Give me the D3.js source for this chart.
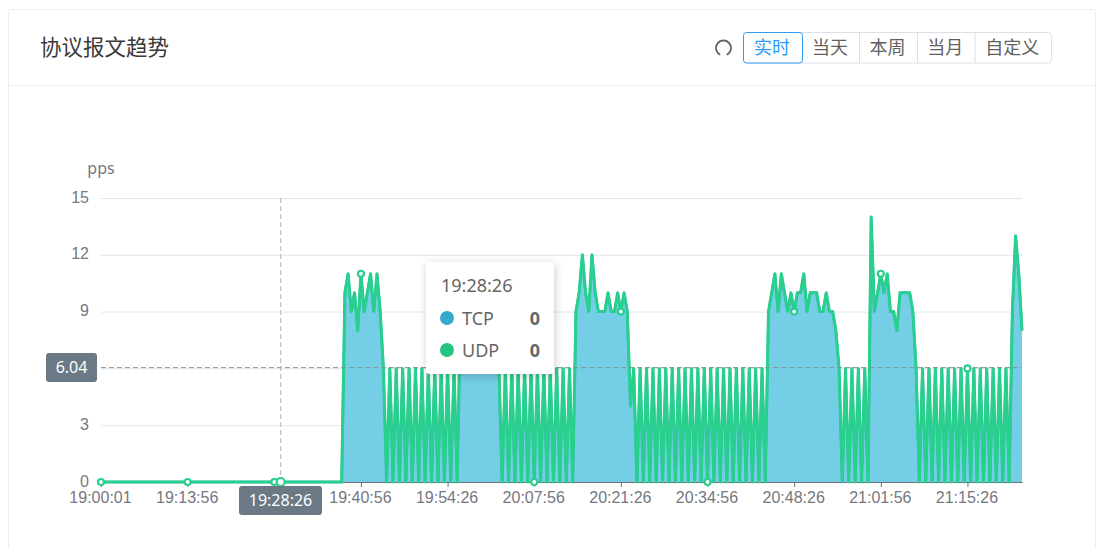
<!DOCTYPE html>
<html>
<head>
<meta charset="utf-8">
<script src="https://cdn.jsdelivr.net/npm/d3@7"></script>
<style>
  html, body { margin: 0; padding: 0; background: #fff; overflow: hidden; }
  svg { display: block; font-family: "Noto Sans", "Noto Sans CJK SC", sans-serif; }
  .cn { font-family: "Noto Sans CJK SC", sans-serif; }
</style>
</head>
<body>
<svg id="chart" width="1097" height="549"></svg>
<script>
const title = "协议报文趋势";
const rangeButtons = ["实时", "当天", "本周", "当月", "自定义"];
const buttonEdges = [743.5, 802.5, 859.5, 917.5, 975, 1051.5];

const yTicks = [0, 3, 6, 9, 12, 15];
const yUnit = "pps";

// one label every 27 samples, the third one sits under the pointer label
const tickLabels = ["19:00:01", "19:13:56", "", "19:40:56", "19:54:26", "20:07:56",
  "20:21:26", "20:34:56", "20:48:26", "21:01:56", "21:15:26"];
const tickEvery = 27;

const udpValues = [
  0,0,0,0,0,0,0,0,0,0,0,0,0,0,0,0,0,0,0,
  0,0,0,0,0,0,0,0,0,0,0,0,0,0,0,0,0,0,0,
  0,0,0,0,0,0,0,0,0,0,0,0,0,0,0,0,0,0,0,
  0,0,0,0,0,0,0,0,0,0,0,0,0,0,0,0,0,0,0,
  10,11,9,10,8,11,9,10,11,9,11,9,6,0,
  6,0,6,0,6,0,6,0,6,0,6,0,6,0,6,0,6,0,6,0,6,0,
  9,9,9,9,9,9,9,9,9,9,9,9,6,0,
  6,0,6,0,6,0,6,0,6,0,6,0,6,0,6,0,6,0,6,0,6,0,
  9,10,12,10,9,12,10,9,9,9,10,9,9,10,9,10,9,4,6,0,
  6,0,6,0,6,0,6,0,6,0,6,0,6,0,6,0,6,0,6,0,
  6,0,6,0,6,0,6,0,6,0,6,0,6,0,6,0,6,0,6,0,
  9,10,11,9,11,10,9,10,9,10,10,11,9,10,10,10,9,9,10,9,9,8,6,0,
  6,0,6,0,6,0,6,0,
  14,9,10,11,10,11,9,9,8,10,10,10,10,9,6,0,
  6,0,6,0,6,0,6,0,6,0,6,0,6,0,6,0,6,0,6,0,6,0,6,0,6,0,6,0,
  9,13,11,8
];
// TCP lies exactly under UDP in the picture, only its fill shows
const tcpValues = udpValues;

const hoverIndex = 56;
const hoverTime = "19:28:26";
const hoverY = 6.04;
const tooltipRows = [
  { name: "TCP", value: 0, color: "#36a9ce" },
  { name: "UDP", value: 0, color: "#25c480" }
];

const svg = d3.select("#chart");
const plotLeft = 101, plotRight = 1022, plotTop = 198, plotBottom = 482;

const x = d3.scalePoint().domain(d3.range(udpValues.length)).range([plotLeft, plotRight]);
const y = d3.scaleLinear().domain([0, 15]).range([plotBottom, plotTop]);

// card
svg.append("path")
  .attr("d", "M8.5 549V9.5H1095.5V549")
  .attr("fill", "none").attr("stroke", "#ebeef5");
svg.append("line")
  .attr("x1", 8).attr("x2", 1096).attr("y1", 85.5).attr("y2", 85.5)
  .attr("stroke", "#ebeef5");
svg.append("text").attr("class", "cn")
  .attr("x", 40).attr("y", 55)
  .attr("font-size", 21.5).attr("fill", "#3a3a3a")
  .text(title);

// refresh icon
svg.append("path")
  .attr("transform", "translate(723.5,48)")
  .attr("d", d3.arc().innerRadius(7.5).outerRadius(7.5)({ startAngle: Math.PI + 0.45, endAngle: 3 * Math.PI - 0.45 }))
  .attr("fill", "none").attr("stroke", "#666").attr("stroke-width", 1.8);

// buttons
svg.append("rect")
  .attr("x", buttonEdges[0]).attr("y", 32.5)
  .attr("width", buttonEdges[5] - buttonEdges[0]).attr("height", 30.5).attr("rx", 4)
  .attr("fill", "#fff").attr("stroke", "#dcdfe6");
buttonEdges.slice(2, 5).forEach(e => {
  svg.append("line").attr("x1", e).attr("x2", e).attr("y1", 32.5).attr("y2", 63)
    .attr("stroke", "#dcdfe6");
});
svg.append("rect")
  .attr("x", buttonEdges[0]).attr("y", 32.5)
  .attr("width", buttonEdges[1] - buttonEdges[0]).attr("height", 30.5).attr("rx", 3)
  .attr("fill", "#fff").attr("stroke", "#2d9bf5");
svg.selectAll(".btn").data(rangeButtons).join("text")
  .attr("class", "btn cn")
  .attr("x", (d, i) => (buttonEdges[i] + buttonEdges[i + 1]) / 2 - 1)
  .attr("y", 54)
  .attr("text-anchor", "middle")
  .attr("font-size", 18)
  .attr("fill", (d, i) => i === 0 ? "#2d9bf5" : "#5f5f5f")
  .text(d => d);

// y axis + grid, the 6 is covered by the pointer label
const yAxis = svg.append("g")
  .attr("transform", `translate(${plotLeft},0)`)
  .call(d3.axisLeft(y).tickValues(yTicks).tickSize(plotLeft - plotRight).tickPadding(12)
    .tickFormat(d => d === 6 ? "" : d));
yAxis.select(".domain").remove();
yAxis.selectAll("line").attr("stroke", "#e0e6f1");
yAxis.selectAll("text")
  .attr("font-size", 16).attr("fill", "#77777f")
  .attr("font-family", "inherit").attr("dy", "0.25em");
svg.append("text")
  .attr("x", 101).attr("y", 174).attr("text-anchor", "middle")
  .attr("font-size", 16).attr("fill", "#77777f")
  .text(yUnit);

// series
const area = d3.area().x((d, i) => x(i)).y0(plotBottom).y1(d => y(d));
const line = d3.line().x((d, i) => x(i)).y(d => y(d));

svg.append("path").datum(tcpValues)
  .attr("d", area).attr("fill", "#73cee6");
svg.append("path").datum(tcpValues)
  .attr("d", line).attr("fill", "none").attr("stroke", "#36a9ce").attr("stroke-width", 2.5);

// x axis
const xAxis = svg.append("g")
  .attr("transform", `translate(0,${plotBottom})`)
  .call(d3.axisBottom(x)
    .tickValues(tickLabels.map((d, i) => i * tickEvery))
    .tickFormat((d, i) => tickLabels[i])
    .tickSize(5).tickPadding(5).tickSizeOuter(0));
xAxis.select(".domain").attr("stroke", "#6e7079");
xAxis.selectAll("line").attr("stroke", "#6e7079");
xAxis.selectAll("text")
  .attr("font-size", 16).attr("fill", "#77777f").attr("font-family", "inherit")
  .attr("dx", -1);

svg.append("path").datum(udpValues)
  .attr("d", line).attr("fill", "none").attr("stroke", "#29cf8c")
  .attr("stroke-width", 3).attr("stroke-linejoin", "round");

// axis pointer
svg.append("line")
  .attr("x1", plotLeft).attr("x2", plotRight).attr("y1", y(hoverY)).attr("y2", y(hoverY))
  .attr("stroke", "#8f8f8f").attr("stroke-dasharray", "5,3");
svg.append("line")
  .attr("x1", x(hoverIndex)).attr("x2", x(hoverIndex)).attr("y1", plotTop).attr("y2", plotBottom)
  .attr("stroke", "#b4b4bc").attr("stroke-dasharray", "5,3");

// symbols on the labelled samples
svg.selectAll(".dot").data(tickLabels.map((d, i) => i * tickEvery)).join("circle")
  .attr("class", "dot")
  .attr("cx", d => x(d)).attr("cy", d => y(udpValues[d]))
  .attr("r", 3).attr("fill", "#fff")
  .attr("stroke", "#29cf8c").attr("stroke-width", 2.2);
svg.append("circle")
  .attr("cx", x(hoverIndex)).attr("cy", y(udpValues[hoverIndex]))
  .attr("r", 4).attr("fill", "#fff")
  .attr("stroke", "#29cf8c").attr("stroke-width", 2.2);

// pointer labels
function pointerLabel(bx, by, w, h, txt) {
  svg.append("rect")
    .attr("x", bx).attr("y", by).attr("width", w).attr("height", h).attr("rx", 3)
    .attr("fill", "#6a7985");
  svg.append("text")
    .attr("x", bx + w / 2).attr("y", by + h / 2 + 5.5).attr("text-anchor", "middle")
    .attr("font-size", 16).attr("fill", "#fff")
    .text(txt);
}
pointerLabel(46, 353, 51, 29, hoverY.toFixed(2));
pointerLabel(239, 486, 83, 29, hoverTime);

// tooltip
const defs = svg.append("defs");
const shadow = defs.append("filter").attr("id", "tipShadow")
  .attr("x", "-20%").attr("y", "-20%").attr("width", "140%").attr("height", "140%");
shadow.append("feDropShadow")
  .attr("dx", 1).attr("dy", 2).attr("stdDeviation", 5)
  .attr("flood-color", "#000").attr("flood-opacity", 0.2);

const tip = svg.append("g").attr("transform", "translate(426,262)");
tip.append("rect")
  .attr("width", 128).attr("height", 112).attr("rx", 4)
  .attr("fill", "#fff").attr("filter", "url(#tipShadow)");
tip.append("text")
  .attr("x", 15).attr("y", 30)
  .attr("font-size", 18).attr("fill", "#666")
  .text(hoverTime);
tooltipRows.forEach((r, i) => {
  const rowY = 56 + i * 32;
  tip.append("circle").attr("cx", 21).attr("cy", rowY).attr("r", 7).attr("fill", r.color);
  tip.append("text").attr("x", 36).attr("y", rowY + 6.5)
    .attr("font-size", 18).attr("fill", "#666").text(r.name);
  tip.append("text").attr("x", 114).attr("y", rowY + 6.5).attr("text-anchor", "end")
    .attr("font-size", 18).attr("font-weight", 700).attr("fill", "#666").text(r.value);
});
</script>
</body>
</html>
